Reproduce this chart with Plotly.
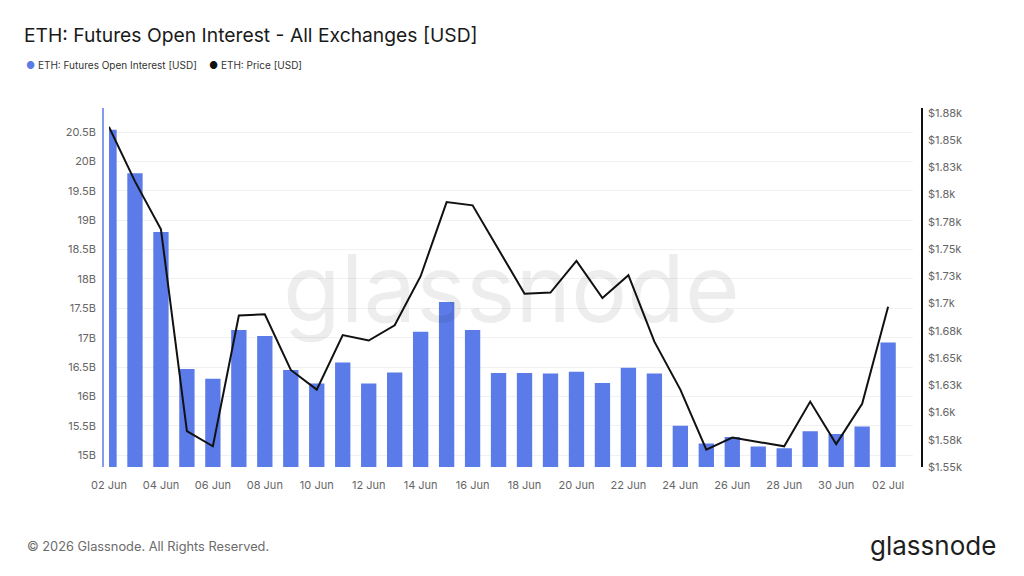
import plotly.graph_objects as go

dates = [
    "2026-06-02", "2026-06-03", "2026-06-04", "2026-06-05", "2026-06-06", "2026-06-07",
    "2026-06-08", "2026-06-09", "2026-06-10", "2026-06-11", "2026-06-12", "2026-06-13",
    "2026-06-14", "2026-06-15", "2026-06-16", "2026-06-17", "2026-06-18", "2026-06-19",
    "2026-06-20", "2026-06-21", "2026-06-22", "2026-06-23", "2026-06-24", "2026-06-25",
    "2026-06-26", "2026-06-27", "2026-06-28", "2026-06-29", "2026-06-30", "2026-07-01",
    "2026-07-02",
]
open_interest_b = [
    20.54, 19.80, 18.80, 16.47, 16.30, 17.13, 17.03, 16.45, 16.22, 16.58, 16.22, 16.41,
    17.10, 17.61, 17.13, 16.40, 16.40, 16.39, 16.42, 16.23, 16.49, 16.39, 15.50, 15.20,
    15.31, 15.15, 15.12, 15.41, 15.36, 15.49, 16.92,
]
price_usd = [
    1862, 1812, 1768, 1583, 1569, 1689, 1690, 1639, 1621, 1671, 1666, 1680,
    1725, 1793, 1790, 1750, 1709, 1710, 1739, 1705, 1726, 1665, 1621, 1566,
    1577, 1573, 1569, 1610, 1571, 1608, 1697,
]
left_tickvals = [15, 15.5, 16, 16.5, 17, 17.5, 18, 18.5, 19, 19.5, 20, 20.5]
left_ticktext = ["15B", "15.5B", "16B", "16.5B", "17B", "17.5B", "18B", "18.5B",
                 "19B", "19.5B", "20B", "20.5B"]
right_tickvals = [1550, 1575, 1600, 1625, 1650, 1675, 1700, 1725, 1750, 1775,
                  1800, 1825, 1850, 1875]
right_ticktext = ["$1.55k", "$1.58k", "$1.6k", "$1.63k", "$1.65k", "$1.68k", "$1.7k",
                  "$1.73k", "$1.75k", "$1.78k", "$1.8k", "$1.83k", "$1.85k", "$1.88k"]

BLUE = "#5b7be8"
FONT = "Inter, Roboto, sans-serif"

# plot area in pixels
L, R, T, B = 109, 913, 108, 467
W, H = 1024, 576


def px(x):
    return (x - L) / (R - L)


def py(y):
    return (B - y) / (B - T)


fig = go.Figure()
fig.add_trace(go.Bar(
    x=dates, y=open_interest_b, marker=dict(color=BLUE, line=dict(width=0)),
    name="ETH: Futures Open Interest [USD]", showlegend=False, yaxis="y",
))
fig.add_trace(go.Scatter(
    x=dates, y=price_usd, mode="lines", line=dict(color="#111111", width=2),
    name="ETH: Price [USD]", showlegend=False, yaxis="y2",
))

annotations = [
    dict(text="<span style='color:%s'>●</span> ETH: Futures Open Interest [USD]" % BLUE,
         x=px(24), y=py(65), xref="paper", yref="paper", xanchor="left", yanchor="middle",
         showarrow=False, font=dict(size=10, color="#333333", family=FONT)),
    dict(text="<span style='color:#111111'>●</span> ETH: Price [USD]",
         x=px(207), y=py(65), xref="paper", yref="paper", xanchor="left", yanchor="middle",
         showarrow=False, font=dict(size=10, color="#333333", family=FONT)),
    dict(text="glassnode", x=0.5, y=0.5, xref="paper", yref="paper",
         xanchor="center", yanchor="middle", showarrow=False,
         font=dict(size=94, color="rgba(0,0,0,0.07)", family=FONT)),
    dict(text="© 2026 Glassnode. All Rights Reserved.",
         x=px(25), y=py(546), xref="paper", yref="paper", xanchor="left", yanchor="middle",
         showarrow=False, font=dict(size=12.8, color="#6b6b6b", family=FONT)),
    dict(text="glassnode",
         x=px(998), y=py(545), xref="paper", yref="paper", xanchor="right", yanchor="middle",
         showarrow=False, font=dict(size=26, color="#1e1e1e", family=FONT)),
]

shapes = [
    dict(type="line", xref="paper", yref="paper", x0=px(103), x1=px(103), y0=0, y1=1,
         line=dict(color=BLUE, width=1.5)),
    dict(type="line", xref="paper", yref="paper", x0=px(922), x1=px(922), y0=0, y1=1,
         line=dict(color="#111111", width=2)),
]

fig.update_layout(
    width=W, height=H,
    margin=dict(l=L, r=W - R, t=T, b=H - B, pad=0),
    paper_bgcolor="white", plot_bgcolor="white",
    font=dict(family=FONT, size=11, color="#666666"),
    title=dict(text="ETH: Futures Open Interest - All Exchanges [USD]",
               x=24 / W, xanchor="left", y=1 - 35 / H, yanchor="middle",
               font=dict(size=19.3, color="#1a1a1a", family=FONT)),
    bargap=0.41,
    showlegend=False,
    xaxis=dict(
        type="date", range=["2026-06-02 00:00", "2026-07-02 23:00"],
        tick0="2026-06-02", dtick=2 * 86400000, tickformat="%d %b",
        showgrid=False, zeroline=False, showline=False, ticks="",
        ticklabelstandoff=10, tickfont=dict(size=11, color="#666666"),
    ),
    yaxis=dict(
        range=[14.80, 20.91], tickvals=left_tickvals, ticktext=left_ticktext,
        showgrid=True, gridcolor="#f1f1f1", gridwidth=1, zeroline=False,
        showline=False, ticks="", ticklabelstandoff=12,
        tickfont=dict(size=11, color="#666666"),
    ),
    yaxis2=dict(
        range=[1550, 1879.3], tickvals=right_tickvals, ticktext=right_ticktext,
        overlaying="y", side="right", showgrid=False, zeroline=False,
        showline=False, ticks="", ticklabelstandoff=14,
        tickfont=dict(size=11, color="#666666"),
    ),
    annotations=annotations,
    shapes=shapes,
)

fig.write_html("out.html")
